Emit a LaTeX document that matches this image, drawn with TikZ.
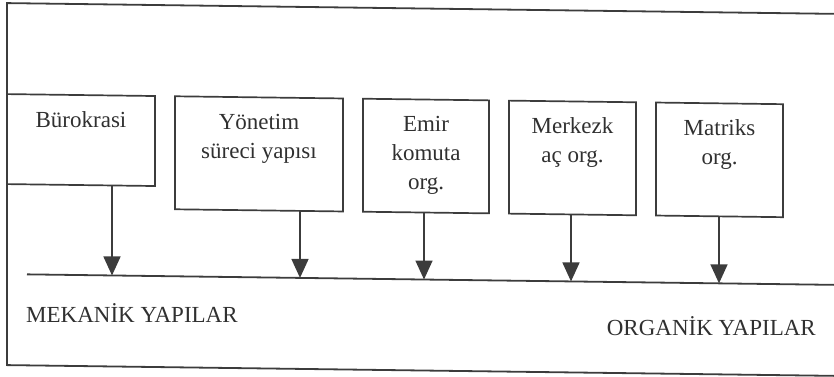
\documentclass[tikz,border=0pt]{standalone}
\usepackage{fontspec}
\setmainfont{Liberation Serif}
\usetikzlibrary{arrows.meta}
\definecolor{ink}{RGB}{60,60,60}
\definecolor{txtc}{RGB}{48,48,48}
\tikzset{
  frameline/.style={draw=ink, line width=1.8pt},
  box/.style={draw=ink, line width=1.7pt, rectangle, inner sep=0pt, outer sep=0pt, transform shape},
  lbl/.style={text=txtc, font=\fontsize{23}{29}\selectfont, inner sep=0pt, align=center},
  arr/.style={draw=ink, line width=1.6pt, -{Triangle[length=19pt,width=17pt]}},
}
\begin{document}
\begin{tikzpicture}[x=1pt,y=-1pt]
\useasboundingbox (0,0) rectangle (834,376);
\begin{scope}[yslant=-0.013]
  % outer frame
  \coordinate (ftr) at (850,3);
  \coordinate (ftl) at (7,3);
  \coordinate (fbl) at (7,365);
  \coordinate (fbr) at (850,365);
  \draw[frameline] (ftr) -- (ftl) -- (fbl) -- (fbr);
  % baseline
  \coordinate (hl) at (27,274);
  \coordinate (hr) at (850,274);
  \draw[frameline] (hl) -- (hr);
  % boxes
  \node[box, minimum width=148pt, minimum height=90pt]  (b1) at (81,139) {};
  \node[box, minimum width=168pt, minimum height=113pt] (b2) at (259,150.5) {};
  \node[box, minimum width=126pt, minimum height=113pt] (b3) at (426,150.5) {};
  \node[box, minimum width=127pt, minimum height=113pt] (b4) at (572.5,150.5) {};
  \node[box, minimum width=127pt, minimum height=113pt] (b5) at (719.5,150.5) {};
  % texts
  \node[lbl, anchor=north] (t1) at (81,110.3) {Bürokrasi};
  \node[lbl, anchor=north] (t2) at (259,110.3) {Yönetim\\süreci yapısı};
  \node[lbl, anchor=north] (t3) at (426,110.3) {Emir\\komuta\\org.};
  \node[lbl, anchor=north] (t4) at (572.5,110.3) {Merkezk\\aç org.};
  \node[lbl, anchor=north] (t5) at (719.5,110.3) {Matriks\\org.};
  % arrow targets
  \coordinate (a1) at (112,274);
  \coordinate (a2) at (300,274);
  \coordinate (a3) at (424,274);
  \coordinate (a4) at (571,274);
  \coordinate (a5) at (719,274);
  \draw[arr] (b1.south -| a1) -- (a1);
  \draw[arr] (b2.south -| a2) -- (a2);
  \draw[arr] (b3.south -| a3) -- (a3);
  \draw[arr] (b4.south -| a4) -- (a4);
  \draw[arr] (b5.south -| a5) -- (a5);
  % bottom labels
  \node[lbl, anchor=base west] (mek) at (26,322.5) {MEKANİK YAPILAR};
  \node[lbl, anchor=base east] (org) at (816,324.5) {ORGANİK YAPILAR};
\end{scope}
\end{tikzpicture}
\end{document}
